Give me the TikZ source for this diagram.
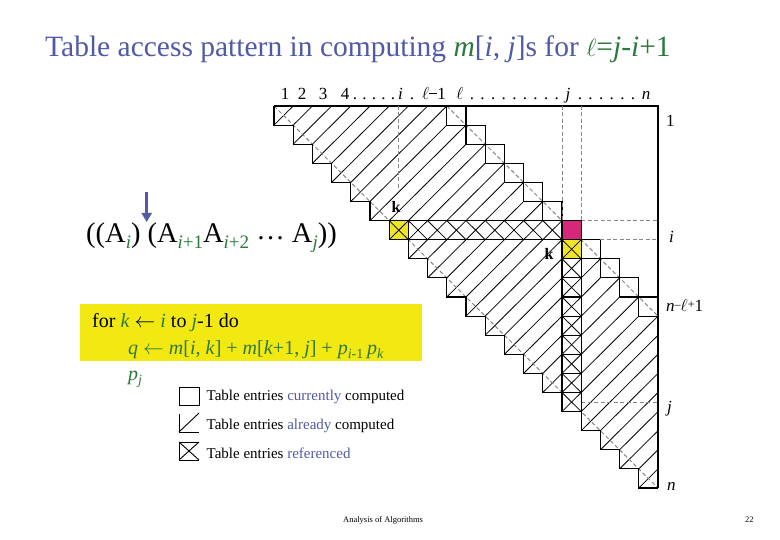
\documentclass[tikz,border=0pt]{standalone}
\usepackage{fontspec}
\setmainfont{Liberation Serif}
\usetikzlibrary{arrows.meta}
\definecolor{tblue}{RGB}{80,90,165}
\definecolor{tgreen}{RGB}{45,120,60}
\definecolor{cpink}{RGB}{214,40,120}
\definecolor{cyel}{RGB}{240,228,40}
\definecolor{byel}{RGB}{242,232,18}
\definecolor{dgray}{RGB}{135,135,135}
\newcommand{\fs}[1]{\fontsize{#1}{#1}\selectfont}
\newcommand{\gi}[1]{\textcolor{tgreen}{\textit{#1}}}
\newcommand{\sbg}[1]{\raisebox{-5.5pt}{\fs{19}\color{tgreen}#1}}
\begin{document}
\begin{tikzpicture}[x=1pt,y=-1pt,
  outl/.style={line width=1.1pt,black},
  hatchln/.style={line width=0.8pt,black},
  dgl/.style={dgray,line width=1pt,dash pattern=on 4pt off 2.5pt},
  lbl/.style={inner sep=0pt,anchor=base},
  lblw/.style={inner sep=0pt,anchor=base west}]
\useasboundingbox (0,0) rectangle (780,540);
\fill[white] (0,0) rectangle (780,540);
\def\xo{274}\def\yo{106}\def\cw{19.2}\def\ch{19.1}

% title
\node[lblw,font=\fs{29.5},text=tblue] (title) at (45,57)
  {Table access pattern in computing \gi{m}[\textit{i}, \textit{j}]s for \textcolor{tgreen}{$\ell$=\textit{j}-\textit{i}+1}};

% hatching (already computed)
\foreach \r in {1,...,20}{
  \pgfmathtruncatemacro\cmax{min(\r+8,20)}
  \foreach \c in {\r,...,\cmax}{
    \draw[hatchln] ({\xo+(\c-1)*\cw},{\yo+\r*\ch}) -- ({\xo+\c*\cw},{\yo+(\r-1)*\ch});
  }
}
% gray dashed diagonals
\draw[dgl] (\xo,\yo) -- ({\xo+20*\cw},{\yo+20*\ch});
\draw[dgl] ({\xo+9*\cw},\yo) -- ({\xo+20*\cw},{\yo+11*\ch});

% current diagonal cells
\foreach \r in {1,...,11}{
  \draw[outl] ({\xo+(\r+8)*\cw},{\yo+(\r-1)*\ch}) rectangle ({\xo+(\r+9)*\cw},{\yo+\r*\ch});
}
% outline
\draw[outl] (\xo,\yo) -- ({\xo+20*\cw},\yo) -- ({\xo+20*\cw},{\yo+20*\ch});
\draw[outl] (\xo,\yo) \foreach \r in {1,...,20}{ -- ({\xo+(\r-1)*\cw},{\yo+\r*\ch}) -- ({\xo+\r*\cw},{\yo+\r*\ch}) };

% dashed guides
\draw[dgl] ({\xo+6.5*\cw},\yo) -- ({\xo+6.5*\cw},190);
\draw[dgl] ({\xo+15*\cw},\yo) -- ({\xo+15*\cw},{\yo+6*\ch});
\draw[dgl] ({\xo+16*\cw},\yo) -- ({\xo+16*\cw},{\yo+6*\ch});
\draw[dgl] ({\xo+16*\cw},{\yo+6*\ch}) -- ({\xo+20*\cw},{\yo+6*\ch});
\draw[dgl] ({\xo+17*\cw},{\yo+7*\ch}) -- ({\xo+20*\cw},{\yo+7*\ch});
\draw[dgl] ({\xo+16*\cw},{\yo+15.5*\ch}) -- ({\xo+20*\cw},{\yo+15.5*\ch});

% referenced row i
\fill[white] ({\xo+7*\cw},{\yo+6*\ch}) rectangle ({\xo+15*\cw},{\yo+7*\ch});
\fill[cyel] ({\xo+6*\cw},{\yo+6*\ch}) rectangle ({\xo+7*\cw},{\yo+7*\ch});
\foreach \c in {7,...,15}{
  \draw[hatchln] ({\xo+(\c-1)*\cw},{\yo+6*\ch}) -- ({\xo+\c*\cw},{\yo+7*\ch});
  \draw[hatchln] ({\xo+(\c-1)*\cw},{\yo+7*\ch}) -- ({\xo+\c*\cw},{\yo+6*\ch});
}
\draw[outl] ({\xo+6*\cw},{\yo+6*\ch}) rectangle ({\xo+15*\cw},{\yo+7*\ch});
\draw[outl] ({\xo+7*\cw},{\yo+6*\ch}) -- ({\xo+7*\cw},{\yo+7*\ch});
% referenced column j
\fill[white] ({\xo+15*\cw},{\yo+8*\ch}) rectangle ({\xo+16*\cw},{\yo+16*\ch});
\fill[cyel] ({\xo+15*\cw},{\yo+7*\ch}) rectangle ({\xo+16*\cw},{\yo+8*\ch});
\foreach \r in {8,...,16}{
  \draw[hatchln] ({\xo+15*\cw},{\yo+(\r-1)*\ch}) -- ({\xo+16*\cw},{\yo+\r*\ch});
  \draw[hatchln] ({\xo+15*\cw},{\yo+\r*\ch}) -- ({\xo+16*\cw},{\yo+(\r-1)*\ch});
  \draw[outl] ({\xo+15*\cw},{\yo+(\r-1)*\ch}) rectangle ({\xo+16*\cw},{\yo+\r*\ch});
}
% current cell m[i,j]
\draw[outl,fill=cpink] ({\xo+15*\cw},{\yo+6*\ch}) rectangle ({\xo+16*\cw},{\yo+7*\ch});

% k labels
\node[lbl,font=\fs{16}\bfseries] (k1) at (396,213) {k};
\node[lbl,font=\fs{16}\bfseries] (k2) at (549,260) {k};

% top index labels
\begin{scope}[every node/.style={lbl,font=\fs{17}}]
\node (c1) at (285,100) {1};
\node (c2) at (302,100) {2};
\node (c3) at (323,100) {3};
\node (c4) at (345,100) {4};
\foreach \k in {0,...,4} \node (da\k) at ({355+\k*9.5},100) {.};
\node (ci) at (400.5,100) {\textit{i}};
\node (dot) at (412,100) {.};
\node[lblw] (clm) at (422,100) {$\ell$\raisebox{6pt}{\rule{8pt}{0.8pt}}1};
\node (cl) at (460,100) {$\ell$};
\foreach \k in {0,...,8} \node (db\k) at ({472+\k*10.6},100) {.};
\node (cj) at (568,100) {\textit{j}};
\foreach \k in {0,...,5} \node (dc\k) at ({580+\k*10.6},100) {.};
\node (cn) at (646,100) {\textit{n}};
\end{scope}

% right row labels
\begin{scope}[every node/.style={lblw,font=\fs{17}}]
\node (r1) at (666,127) {1};
\node (ri) at (669,243) {\textit{i}};
\node (rnl) at (666,312) {\textit{n}\raisebox{3pt}{\fs{12}--}$\ell$\raisebox{3pt}{\fs{12}+}1};
\node (rj) at (667,412) {\textit{j}};
\node (rn) at (667,490) {\textit{n}};
\end{scope}

% formula and arrow
\node[lblw,font=\fs{28.5}] (form) at (86,243)
  {((A\sbg{\textit{i}})\hspace{7pt}(A\sbg{\textit{i}+1}A\sbg{\textit{i}+2} \raisebox{3pt}{\dots} A\sbg{\textit{j}}))};
\coordinate (arrtop) at (146.7,192);
\coordinate (arrbot) at (146.7,222);
\draw[tblue,line width=3pt,-{Triangle[width=10pt,length=9pt]}] (arrtop) -- (arrbot);

% yellow code box
\fill[byel] (80,304) rectangle (422,361);
\node[lblw,font=\fs{20}] (for) at (92,328)
  {for \gi{k} $\leftarrow$ \gi{i} to \gi{j}-1 do};
\node[lblw,font=\fs{20},text=tgreen] (q) at (128,355)
  {\textit{q} $\leftarrow$ \textit{m}[\textit{i}, \textit{k}] + \textit{m}[\textit{k}+1, \textit{j}] + \textit{p}\textsubscript{\textit{i}-1}\,\textit{p}\textsubscript{\textit{k}}};
\node[lblw,font=\fs{20},text=tgreen] (pj) at (128,381) {\textit{p}\textsubscript{\textit{j}}};

% legend
\draw[line width=0.9pt] (179,387) rectangle (199,405);
\draw[line width=0.9pt] (179,414) -- (179,432) -- (199,432);
\draw[line width=0.9pt] (179,432) -- (199,413);
\draw[line width=0.9pt] (199,442) -- (179,442) -- (179,460) -- (199,460);
\draw[line width=0.9pt] (179,442) -- (199,460);
\draw[line width=0.9pt] (179,460) -- (199,442);
\node[lblw,font=\fs{15}] (leg1) at (206.5,400) {Table entries \textcolor{tblue}{currently} computed};
\node[lblw,font=\fs{15}] (leg2) at (206.5,429) {Table entries \textcolor{tblue}{already} computed};
\node[lblw,font=\fs{15}] (leg3) at (206.5,458) {Table entries \textcolor{tblue}{referenced}};

% footer
\node[lblw,font=\fs{8.5}] (foot) at (343,522) {Analysis of Algorithms};
\node[lblw,font=\fs{8.5}] (page) at (745,522) {22};
\end{tikzpicture}
\end{document}
